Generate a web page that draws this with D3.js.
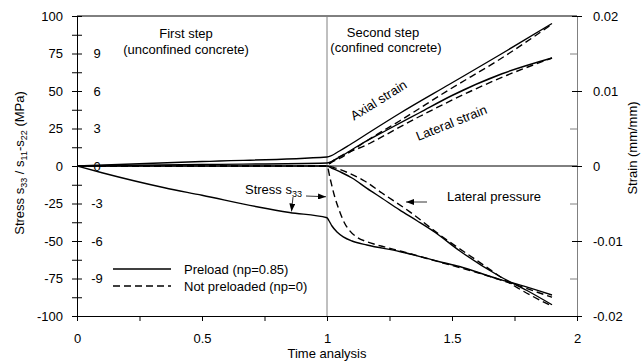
<!DOCTYPE html>
<html>
<head>
<meta charset="utf-8">
<script src="https://cdn.jsdelivr.net/npm/d3@7"></script>
<style>
  body { margin: 0; background: #fff; }
  svg { font-family: "Liberation Sans", Arial, sans-serif; }
</style>
</head>
<body>
<div id="chart"></div>
<script>
// values: [time, value]
const stressPreload = [[0, 0], [0.1, -4.5], [0.35, -14.5], [0.5, -19.5], [0.73, -27.5], [0.85, -31], [1.0, -34.5],
  [1.008, -36.5], [1.02, -40], [1.04, -44], [1.065, -47.2], [1.1, -50], [1.16, -52.7], [1.29, -57],
  [1.45, -63.8], [1.53, -67], [1.69, -75.6], [1.77, -79.3], [1.9, -86]]
const stressNotPreloaded = [[0, 0], [1.0, 0], [1.012, -8], [1.03, -20], [1.05, -30], [1.07, -38], [1.09, -43],
  [1.12, -47.5], [1.16, -50.5], [1.22, -53.5], [1.3, -57], [1.45, -64], [1.6, -71], [1.75, -79], [1.9, -87.5]]
const pressurePreload = [[0, 0], [1.0, 0], [1.02, -1.5], [1.06, -4.5], [1.1, -8], [1.16, -14.9], [1.22, -21.5],
  [1.29, -29.3], [1.36, -36.5], [1.43, -44], [1.53, -56.5], [1.69, -73.5], [1.8, -83], [1.9, -92.5]]
const pressureNotPreloaded = [[0, 0], [1.0, 0], [1.03, -1.2], [1.09, -4.9], [1.15, -10], [1.22, -18], [1.33, -30.4],
  [1.46, -47], [1.6, -63], [1.75, -80], [1.9, -93.5]]

const axialPreload = [[0, 0], [0.5, 0.0006], [1.0, 0.0012], [1.05, 0.002], [1.09, 0.0028], [1.17, 0.0045],
  [1.29, 0.007], [1.49, 0.0109], [1.69, 0.0148], [1.9, 0.019]]
const axialNotPreloaded = [[0, 0], [1.0, 0], [1.01, 0.0003], [1.05, 0.001], [1.17, 0.0036], [1.29, 0.006],
  [1.49, 0.0102], [1.69, 0.0142], [1.9, 0.0189]]
const lateralPreload = [[0, 0], [0.5, 0.0002], [1.0, 0.0004], [1.04, 0.001], [1.13, 0.0028], [1.24, 0.0048],
  [1.37, 0.0071], [1.5, 0.0094], [1.7, 0.0123], [1.9, 0.0144]]
const lateralNotPreloaded = [[0, 0], [1.0, 0], [1.01, 0.0003], [1.17, 0.003], [1.37, 0.0066], [1.57, 0.0099],
  [1.72, 0.0121], [1.9, 0.0144]]

const stressTicks = d3.range(-8, 9).map(i => i * 12.5)
const strainTicks = d3.range(-4, 5).map(i => i * 0.005)
const timeTicks = d3.range(0, 9).map(i => i * 0.25)
const innerLabels = [9, 6, 3, 0, -3, -6, -9]

const width = 641
const height = 363
const plot = { left: 77, right: 577, top: 16, bottom: 316 }

const svg = d3.select('#chart').append('svg')
  .attr('width', width)
  .attr('height', height)

const x = d3.scaleLinear([0, 2], [plot.left, plot.right])
const yS = d3.scaleLinear([-100, 100], [plot.bottom, plot.top])
const yE = d3.scaleLinear([-0.02, 0.02], [plot.bottom, plot.top])

svg.append('defs').append('marker')
  .attr('id', 'arrow')
  .attr('viewBox', '0 0 8 6')
  .attr('refX', 8).attr('refY', 3)
  .attr('markerWidth', 8).attr('markerHeight', 6)
  .attr('markerUnits', 'userSpaceOnUse')
  .attr('orient', 'auto')
  .append('path')
  .attr('d', 'M0,0L8,3L0,6Z')
  .attr('fill', '#000')

// frame pieces
svg.append('line')
  .attr('x1', plot.left).attr('x2', plot.right)
  .attr('y1', plot.top).attr('y2', plot.top)
  .attr('stroke', '#000')
svg.append('line')
  .attr('x1', plot.left).attr('x2', plot.right)
  .attr('y1', yS(0)).attr('y2', yS(0))
  .attr('stroke', '#000')
svg.append('line')
  .attr('x1', x(1)).attr('x2', x(1))
  .attr('y1', plot.top).attr('y2', plot.bottom)
  .attr('stroke', '#808080')

// left axis, ticks cross the line
svg.append('g')
  .attr('transform', `translate(${plot.left},0)`)
  .call(d3.axisLeft(yS).tickValues(stressTicks).tickSize(5).tickPadding(9)
    .tickFormat(d => d % 25 === 0 ? d : ''))
svg.append('g')
  .attr('transform', `translate(${plot.left},0)`)
  .call(d3.axisRight(yS).tickValues(stressTicks).tickSize(5).tickFormat(''))
  .call(g => g.select('.domain').remove())

// right axis
const rightAxis = svg.append('g')
  .attr('transform', `translate(${plot.right},0)`)
  .call(d3.axisRight(yE).tickValues(strainTicks).tickSizeOuter(0)
    .tickSize(0).tickPadding(16)
    .tickFormat((d, i) => i % 2 === 0 ? String(+d.toFixed(3)) : ''))
rightAxis.select('.domain').attr('stroke', '#808080')
rightAxis.selectAll('.tick').append('line')
  .attr('x1', (d, i) => i % 2 === 0 ? -5 : -7)
  .attr('x2', (d, i) => i % 2 === 0 ? 5 : 0)
  .attr('stroke', (d, i) => i % 2 === 0 ? '#000' : '#808080')

// bottom axis
svg.append('g')
  .attr('transform', `translate(0,${plot.bottom})`)
  .call(d3.axisBottom(x).tickValues(timeTicks).tickSize(5).tickPadding(13).tickSizeOuter(0)
    .tickFormat(d => d % 0.5 === 0 ? d : ''))

svg.selectAll('.tick text').attr('font-size', 13).attr('font-family', '"Liberation Sans", Arial, sans-serif').attr('fill', '#000')
svg.selectAll('.domain').attr('stroke-width', 1)

// inner secondary labels
svg.append('g').selectAll('text')
  .data(innerLabels)
  .join('text')
  .attr('x', 97)
  .attr('y', d => yS(d * 25 / 3))
  .attr('dy', '0.35em')
  .attr('text-anchor', 'middle')
  .attr('font-size', 13)
  .text(d => d)

// curves
const lineS = d3.line().curve(d3.curveMonotoneX).x(d => x(d[0])).y(d => yS(d[1]))
const lineE = d3.line().curve(d3.curveMonotoneX).x(d => x(d[0])).y(d => yE(d[1]))

const series = [
  { data: stressPreload, line: lineS, dash: null },
  { data: stressNotPreloaded, line: lineS, dash: '7,4' },
  { data: pressurePreload, line: lineS, dash: null },
  { data: pressureNotPreloaded, line: lineS, dash: '7,4' },
  { data: axialPreload, line: lineE, dash: null },
  { data: axialNotPreloaded, line: lineE, dash: '7,4' },
  { data: lateralPreload, line: lineE, dash: null },
  { data: lateralNotPreloaded, line: lineE, dash: '7,4' }
]

svg.append('g').selectAll('path')
  .data(series)
  .join('path')
  .attr('fill', 'none')
  .attr('stroke', '#000')
  .attr('stroke-width', 1.4)
  .attr('stroke-dasharray', d => d.dash)
  .attr('d', d => d.line(d.data))

// annotations
const txt = (tx, ty, s, anchor = 'middle') => svg.append('text')
  .attr('x', tx).attr('y', ty)
  .attr('text-anchor', anchor)
  .attr('font-size', 13)
  .text(s)

txt(186, 38, 'First step')
txt(186, 54, '(unconfined concrete)')
txt(383, 37, 'Second step')
txt(386, 52, '(confined concrete)')
txt(447, 201, 'Lateral pressure', 'start')

svg.append('text')
  .attr('transform', 'translate(381,104) rotate(-32)')
  .attr('text-anchor', 'middle')
  .attr('font-size', 13)
  .text('Axial strain')
svg.append('text')
  .attr('transform', 'translate(453,127) rotate(-22)')
  .attr('text-anchor', 'middle')
  .attr('font-size', 13)
  .text('Lateral strain')

const s33 = svg.append('text')
  .attr('x', 245).attr('y', 194)
  .attr('font-size', 13)
s33.append('tspan').text('Stress s')
s33.append('tspan').attr('font-size', 9).attr('dy', 3).text('33')

const arrows = [
  [[1.4, -24], [1.316, -24]],
  [[0.916, -20], [0.996, -20.5]],
  [[0.864, -20.7], [0.858, -30.3]]
]
svg.append('g').selectAll('line')
  .data(arrows)
  .join('line')
  .attr('x1', d => x(d[0][0])).attr('y1', d => yS(d[0][1]))
  .attr('x2', d => x(d[1][0])).attr('y2', d => yS(d[1][1]))
  .attr('stroke', '#000')
  .attr('stroke-width', 0.8)
  .attr('marker-end', 'url(#arrow)')

// legend
const legend = [
  { label: 'Preload (np=0.85)', dash: null, y: 269 },
  { label: 'Not preloaded (np=0)', dash: '7,4', y: 286 }
]
const lg = svg.append('g').selectAll('g').data(legend).join('g')
lg.append('line')
  .attr('x1', 113).attr('x2', 171)
  .attr('y1', d => d.y).attr('y2', d => d.y)
  .attr('stroke', '#000').attr('stroke-width', 1.4)
  .attr('stroke-dasharray', d => d.dash)
lg.append('text')
  .attr('x', 184).attr('y', d => d.y)
  .attr('dy', '0.35em')
  .attr('font-size', 13)
  .text(d => d.label)

// axis titles
txt(327, 358, 'Time analysis')

const yTitle = svg.append('text')
  .attr('transform', 'translate(24,163) rotate(-90)')
  .attr('text-anchor', 'middle')
  .attr('font-size', 13)
yTitle.append('tspan').text('Stress s')
yTitle.append('tspan').attr('font-size', 9).attr('dy', 3).text('33')
yTitle.append('tspan').attr('dy', -3).text(' / s')
yTitle.append('tspan').attr('font-size', 9).attr('dy', 3).text('11')
yTitle.append('tspan').attr('dy', -3).text('-s')
yTitle.append('tspan').attr('font-size', 9).attr('dy', 3).text('22')
yTitle.append('tspan').attr('dy', -3).text(' (MPa)')

svg.append('text')
  .attr('transform', 'translate(637,148) rotate(-90)')
  .attr('text-anchor', 'middle')
  .attr('font-size', 13)
  .text('Strain (mm/mm)')
</script>
</body>
</html>
